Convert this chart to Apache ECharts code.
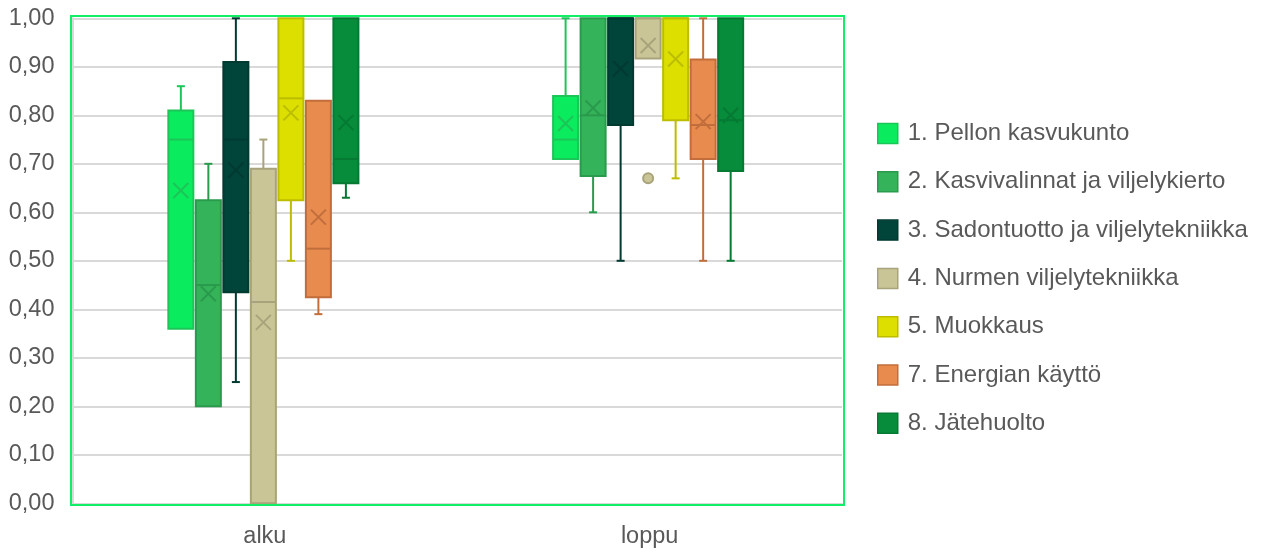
<!DOCTYPE html>
<html>
<head>
<meta charset="utf-8">
<script src="https://cdn.jsdelivr.net/npm/echarts@6/dist/echarts.min.js"></script>
<style>
html,body{margin:0;padding:0;background:#fff;}
#chart{width:1261px;height:554px;}
</style>
</head>
<body>
<div id="chart"></div>
<script>
// ---- Data ----
const categories = ['alku', 'loppu'];
const seriesNames = [
  '1. Pellon kasvukunto',
  '2. Kasvivalinnat ja viljelykierto',
  '3. Sadontuotto ja viljelytekniikka',
  '4. Nurmen viljelytekniikka',
  '5. Muokkaus',
  '7. Energian käyttö',
  '8. Jätehuolto'
];
// [min, Q1, median, Q3, max] per category (alku, loppu)
const pellonBox      = [[0.36, 0.36, 0.75, 0.81, 0.86], [0.71, 0.71, 0.75, 0.84, 1.00]];
const kasvivalBox    = [[0.20, 0.20, 0.45, 0.625, 0.70], [0.60, 0.675, 0.80, 1.00, 1.00]];
const sadontuottoBox = [[0.25, 0.435, 0.75, 0.91, 1.00], [0.50, 0.78, 1.00, 1.00, 1.00]];
const nurmenBox      = [[0.00, 0.00, 0.415, 0.69, 0.75], [0.917, 0.917, 1.00, 1.00, 1.00]];
const muokkausBox    = [[0.50, 0.625, 0.835, 1.00, 1.00], [0.67, 0.79, 1.00, 1.00, 1.00]];
const energiaBox     = [[0.39, 0.425, 0.525, 0.83, 0.83], [0.50, 0.71, 0.78, 0.915, 1.00]];
const jatehuoltoBox  = [[0.63, 0.66, 0.71, 1.00, 1.00], [0.50, 0.685, 0.79, 1.00, 1.00]];
// means per category
const pellonMean      = [0.645, 0.783];
const kasvivalMean    = [0.432, 0.815];
const sadontuottoMean = [0.687, 0.896];
const nurmenMean      = [0.373, 0.944];
const muokkausMean    = [0.805, 0.916];
const energiaMean     = [0.590, 0.787];
const jatehuoltoMean  = [0.785, 0.800];
// outliers per category
const nurmenOutliers = [[], [0.67]];
const noOutliers = [[], []];
const yTicks = [0, 0.1, 0.2, 0.3, 0.4, 0.5, 0.6, 0.7, 0.8, 0.9, 1.0];

const boxes = [pellonBox, kasvivalBox, sadontuottoBox, nurmenBox, muokkausBox, energiaBox, jatehuoltoBox];
const means = [pellonMean, kasvivalMean, sadontuottoMean, nurmenMean, muokkausMean, energiaMean, jatehuoltoMean];
const outliers = [noOutliers, noOutliers, noOutliers, nurmenOutliers, noOutliers, noOutliers, noOutliers];

// ---- Styles ----
const fills   = ['#0BEB5E', '#34B35A', '#00443A', '#CAC596', '#DCDF00', '#E88B4F', '#068C3A'];
const strokes = ['#1CC558', '#2A9A4C', '#013A30', '#A9A37C', '#BDBD00', '#C16E3C', '#067A33'];
const PITCH = 0.0715;
const BOXW = 0.065;
const FONT = '"Liberation Sans", Arial, sans-serif';
const TEXTC = '#595959';
const FS = 23.5;

function makeRender(k) {
  return function (params, api) {
    const cat = api.value(0);
    const bw = api.size([1, 0])[0];
    const cx = api.coord([cat, 0])[0] + (k - 3) * bw * PITCH - 1.5;
    const w = bw * BOXW;
    const Y = v => api.coord([cat, v])[1];
    const yMin = Y(api.value(1)), yQ1 = Y(api.value(2)), yMed = Y(api.value(3)),
          yQ3 = Y(api.value(4)), yMax = Y(api.value(5)), yMean = Y(api.value(6));
    const st = strokes[k], fl = fills[k];
    const lw = 2;
    const ch = [];
    const line = (x1, y1, x2, y2) => ({
      type: 'line', shape: {x1, y1, x2, y2},
      style: {stroke: st, lineWidth: lw}
    });
    const cap = 4;
    if (yMax < yQ3 - 0.5) {
      ch.push(line(cx, yMax, cx, yQ3));
      ch.push(line(cx - cap, yMax, cx + cap, yMax));
    }
    if (yMin > yQ1 + 0.5) {
      ch.push(line(cx, yQ1, cx, yMin));
      ch.push(line(cx - cap, yMin, cx + cap, yMin));
    }
    ch.push({
      type: 'rect',
      shape: {x: cx - w / 2, y: yQ3, width: w, height: yQ1 - yQ3},
      style: {fill: fl, stroke: st, lineWidth: lw}
    });
    ch.push(line(cx - w / 2, yMed, cx + w / 2, yMed));
    const m = 7.5;
    ch.push(line(cx - m, yMean - m, cx + m, yMean + m));
    ch.push(line(cx - m, yMean + m, cx + m, yMean - m));
    const outs = outliers[k][params.dataIndex] || [];
    outs.forEach(v => {
      ch.push({
        type: 'circle',
        shape: {cx: cx, cy: Y(v), r: 5},
        style: {fill: fl, stroke: st, lineWidth: 2}
      });
    });
    return {type: 'group', children: ch};
  };
}

const series = seriesNames.map((name, k) => ({
  name: name,
  type: 'custom',
  renderItem: makeRender(k),
  itemStyle: {color: fills[k], borderColor: strokes[k]},
  encode: {x: 0, y: [1, 2, 3, 4, 5]},
  data: categories.map((c, i) => [i].concat(boxes[k][i]).concat([means[k][i]])),
  z: 3
}));

const chart = echarts.init(document.getElementById('chart'), null, {renderer: 'canvas'});
chart.setOption({
  backgroundColor: '#ffffff',
  animation: false,
  grid: {left: 72.5, right: 419, top: 18.3, bottom: 50.7, containLabel: false},
  xAxis: {
    type: 'category',
    data: categories,
    axisLine: {show: true, lineStyle: {color: '#d9d9d9', width: 2}},
    axisTick: {show: false},
    splitLine: {show: false},
    axisLabel: {color: TEXTC, fontSize: FS, fontFamily: FONT, margin: 21}
  },
  yAxis: {
    type: 'value',
    min: yTicks[0],
    max: yTicks[yTicks.length - 1],
    interval: 0.1,
    axisLine: {show: true, lineStyle: {color: '#d9d9d9', width: 2}},
    axisTick: {show: false},
    splitLine: {show: true, lineStyle: {color: '#d9d9d9', width: 2}},
    axisLabel: {
      color: TEXTC, fontSize: FS, fontFamily: FONT, margin: 18,
      formatter: v => v.toFixed(2).replace('.', ',')
    }
  },
  legend: {
    orient: 'vertical',
    left: 877,
    top: 121.5,
    padding: 0,
    itemWidth: 20,
    itemHeight: 20,
    itemGap: 24.3,
    icon: 'rect',
    textStyle: {color: TEXTC, fontSize: 24, fontFamily: FONT, padding: [0, 0, 0, 5]},
    data: seriesNames.map((n, k) => ({
      name: n,
      itemStyle: {color: fills[k], borderColor: strokes[k], borderWidth: 1.5}
    }))
  },
  graphic: [{
    type: 'rect',
    shape: {x: 71, y: 16, width: 773, height: 489},
    style: {fill: 'none', stroke: '#12EF66', lineWidth: 2},
    z: 10,
    silent: true
  }],
  series: series
});
</script>
</body>
</html>
